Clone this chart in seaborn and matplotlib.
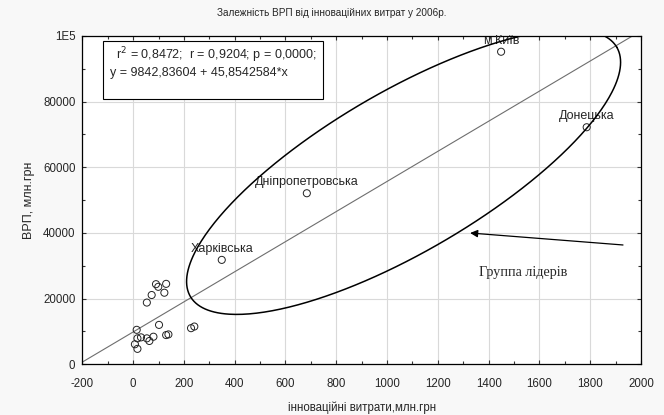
import numpy as np
import pandas as pd
import seaborn as sns
import matplotlib.pyplot as plt
from matplotlib.patches import Rectangle

# innovation spending (mln UAH) and GRP (mln UAH) by region, 2006
innov = [1449, 1786, 684, 349,
         90, 99, 130, 123, 73, 54, 102, 14, 17, 31, 54, 80, 64, 7, 17, 130, 139, 228, 241]
grp = [95200, 72200, 52100, 31800,
       24400, 23600, 24500, 21800, 21100, 18800, 12000, 10500, 7900, 8200, 7900, 8400,
       7100, 6100, 4700, 8900, 9100, 11000, 11500]
names = ["м.Київ", "Донецька", "Дніпропетровська", "Харківська"] + [""] * 19

# regression from the original stats output
intercept = 9842.83604
slope = 45.8542584
stats_line1 = r" r$^2$ = 0,8472;  r = 0,9204; p = 0,0000;"
stats_line2 = "y = 9842,83604 + 45,8542584*x"

# "leaders" group ellipse: centre and two conjugate half-axes (data units)
ell_centre = (1065, 58600)
ell_u = (839.4, 37990)
ell_v = (160.0, -21000)

df = pd.DataFrame({"innov": innov, "grp": grp, "name": names})

sns.set_style("ticks")
plt.rcParams["font.family"] = ["Liberation Sans", "DejaVu Sans"]
plt.rcParams["font.size"] = 8.3
plt.rcParams["axes.unicode_minus"] = False

fig = plt.figure(figsize=(6.64, 4.15), dpi=100, facecolor="#f8f8f8")
ax = fig.add_axes([0.124, 0.1222, 0.8414, 0.7911])
ax.set_facecolor("white")

ax.grid(True, color="#d9d9d9", lw=0.8)
ax.set_axisbelow(True)

# regression line
xs = np.linspace(-200, 2000, 200)
ax.plot(xs, intercept + slope * xs, color="#6e6e6e", lw=0.8, zorder=2)

sns.scatterplot(data=df, x="innov", y="grp", ax=ax, s=26, marker="o",
                facecolor="none", edgecolor="#222222", linewidth=0.7, zorder=3)

for _, r in df[df["name"] != ""].iterrows():
    ax.annotate(r["name"], (r["innov"], r["grp"]), xytext=(0, 8),
                textcoords="offset points", ha="center", va="center", fontsize=9)

# ellipse around the leaders
t = np.linspace(0, 2 * np.pi, 400)
ex = ell_centre[0] + ell_u[0] * np.cos(t) + ell_v[0] * np.sin(t)
ey = ell_centre[1] + ell_u[1] * np.cos(t) + ell_v[1] * np.sin(t)
ax.plot(ex, ey, color="black", lw=1.1, zorder=4)

ax.annotate("", xy=(1327, 39990), xytext=(1929, 36340),
            arrowprops=dict(arrowstyle="-|>", color="black", lw=0.9,
                            mutation_scale=11, shrinkA=0, shrinkB=0))
ax.text(1536, 27900, "Группа лідерів", family="Liberation Serif", fontsize=10.2,
        ha="center", va="center")

# stats box
ax.add_patch(Rectangle((0.0365, 0.807), 0.394, 0.1776, transform=ax.transAxes,
                       facecolor="white", edgecolor="black", lw=0.8, zorder=5))
ax.text(0.054, 0.942, stats_line1, transform=ax.transAxes, va="center", ha="left",
        fontsize=9, zorder=6)
ax.text(0.0496, 0.886, stats_line2, transform=ax.transAxes, va="center", ha="left",
        fontsize=9, zorder=6)

ax.set_xlim(-200, 2000)
ax.set_ylim(0, 100000)
ax.set_xticks(np.arange(-200, 2001, 200))
ax.set_xticks(np.arange(-200, 2001, 100), minor=True)
ax.set_yticks(np.arange(0, 100001, 20000))
ax.set_yticks(np.arange(0, 100001, 10000), minor=True)
ax.set_yticklabels(["0", "20000", "40000", "60000", "80000", "1E5"])
ax.tick_params(which="both", direction="in", top=True, right=True, labelsize=8.3,
               length=3, width=0.8, color="#333333")
ax.tick_params(which="minor", length=2)
ax.tick_params(axis="x", pad=10)
ax.tick_params(axis="y", pad=5)
for sp in ax.spines.values():
    sp.set_linewidth(0.9)
    sp.set_color("black")

ax.set_xlabel("інноваційні витрати,млн.грн", fontsize=8.3, labelpad=8)
ax.set_ylabel("ВРП, млн.грн", fontsize=9, labelpad=6)
fig.suptitle("Залежність ВРП від інноваційних витрат у 2006р.", x=0.5, y=0.98,
             fontsize=7.2)

fig.savefig("out.png", dpi=100, facecolor=fig.get_facecolor())
